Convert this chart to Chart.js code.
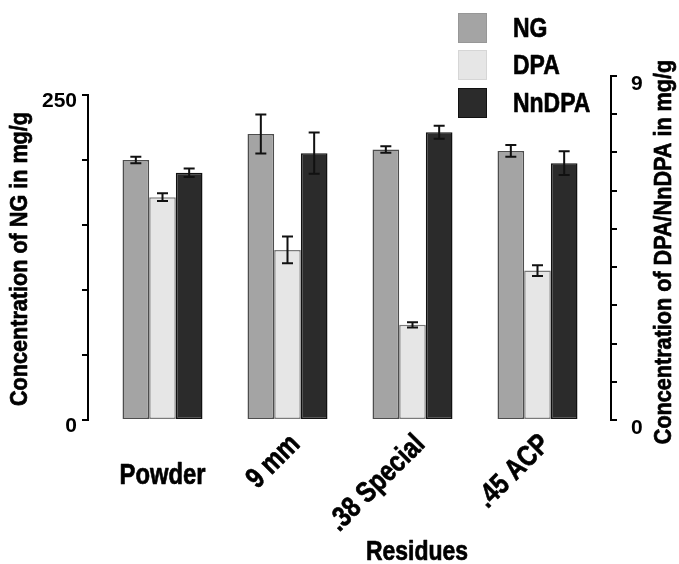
<!DOCTYPE html>
<html>
<head>
<meta charset="utf-8">
<script src="https://cdn.jsdelivr.net/npm/chart.js@4.4.1/dist/chart.umd.min.js"></script>
<style>
html,body{margin:0;padding:0;background:#fff;}
#wrap{width:679px;height:564px;position:relative;}
</style>
</head>
<body>
<div id="wrap"><canvas id="c" width="679" height="564"></canvas></div>
<script>
// ---- data ----
const categories = ['Powder', '9 mm', '.38 Special', '.45 ACP'];
const seriesNames = ['NG', 'DPA', 'NnDPA'];
const ngValues = [200, 220, 208, 207];
const ngErrors = [2.5, 15, 2.5, 4.6];
const dpaValues = [5.83, 4.45, 2.49, 3.91];
const dpaErrors = [0.1, 0.35, 0.07, 0.14];
const nndpaValues = [6.47, 6.98, 7.53, 6.72];
const nndpaErrors = [0.11, 0.54, 0.17, 0.31];
const leftTicks = [0, 50, 100, 150, 200, 250];
const leftLabels = [0, 250];
const rightTicks = [0, 1, 2, 3, 4, 5, 6, 7, 8, 9];
const rightLabels = [0, 9];
const xTitle = 'Residues';
const leftTitle = 'Concentration of NG in mg/g';
const rightTitle = 'Concentration of DPA/NnDPA in mg/g';

// ---- styles ----
const FONT = '"Liberation Sans", Arial, Helvetica, sans-serif';
const fills = ['#a4a4a4', '#e6e6e6', '#2b2b2b'];
const borders = ['#4d4d4d', '#7a7a7a', '#111111'];
const legendBorders = ['#979797', '#d6d6d6', '#111111'];

const errorSets = [ngErrors, dpaErrors, nndpaErrors];

function narrowText(ctx, text, x, y, rot, size, align, squeeze) {
  ctx.save();
  ctx.translate(x, y);
  ctx.rotate(rot);
  ctx.scale(squeeze, 1);
  ctx.font = 'bold ' + size + 'px ' + FONT;
  ctx.textAlign = align;
  ctx.textBaseline = 'middle';
  ctx.fillStyle = '#000';
  ctx.strokeStyle = '#000';
  ctx.lineWidth = 0.7;
  ctx.lineJoin = 'round';
  ctx.fillText(text, 0, 0);
  ctx.strokeText(text, 0, 0);
  ctx.restore();
}

const customPlugin = {
  id: 'custom',
  afterLayout(chart) {
    const xs = chart.scales.x;
    xs.left = 100; xs.right = 600; xs.width = 500;
    xs.configure();
  },
  afterDatasetsDraw(chart) {
    const ctx = chart.ctx;
    ctx.save();
    ctx.strokeStyle = '#111';
    ctx.lineWidth = 2;
    chart.data.datasets.forEach((ds, di) => {
      const meta = chart.getDatasetMeta(di);
      const ys = chart.scales[ds.yAxisID];
      const errs = errorSets[di];
      meta.data.forEach((el, i) => {
        const v = ds.data[i], e = errs[i];
        const yt = ys.getPixelForValue(v + e);
        const yb = ys.getPixelForValue(v - e);
        const x = el.x, cap = 5.5;
        ctx.beginPath();
        ctx.moveTo(x, yt); ctx.lineTo(x, yb);
        ctx.moveTo(x - cap, yt); ctx.lineTo(x + cap, yt);
        ctx.moveTo(x - cap, yb); ctx.lineTo(x + cap, yb);
        ctx.stroke();
      });
    });
    ctx.restore();
  },
  afterDraw(chart) {
    const ctx = chart.ctx;
    const ys = chart.scales.y;
    const xs = chart.scales.x;
    ctx.save();
    // left axis line (only between 0 and 250)
    ctx.strokeStyle = '#000';
    ctx.lineWidth = 2;
    ctx.beginPath();
    ctx.moveTo(chart.chartArea.left, ys.getPixelForValue(leftTicks[0]) + 1);
    ctx.lineTo(chart.chartArea.left, ys.getPixelForValue(leftTicks[leftTicks.length - 1]) - 1);
    ctx.stroke();

    // x tick labels
    categories.forEach((c, i) => {
      const x = xs.getPixelForValue(i);
      if (i === 0) {
        narrowText(ctx, c, x, 476, 0, 29, 'center', 0.82);
      } else {
        narrowText(ctx, c, x + 8, 440, -Math.PI / 4, 29, 'right', 0.82);
      }
    });
    // titles
    narrowText(ctx, xTitle, 417, 552, 0, 28, 'center', 0.82);
    narrowText(ctx, leftTitle, 20, 259, -Math.PI / 2, 24, 'center', 0.9);
    narrowText(ctx, rightTitle, 664, 252, -Math.PI / 2, 24, 'center', 0.9);

    // legend
    const tops = [13, 50, 88];
    chart.data.datasets.forEach((ds, di) => {
      ctx.fillStyle = ds.backgroundColor;
      ctx.fillRect(458, tops[di], 29, 30);
      ctx.strokeStyle = legendBorders[di];
      ctx.lineWidth = 1;
      ctx.strokeRect(458.5, tops[di] + 0.5, 28, 29);
      narrowText(ctx, ds.label, 513, tops[di] + 16, 0, 28, 'left', 0.82);
    });
    ctx.restore();
  }
};

const makeDs = (i, data, axis) => ({
  label: seriesNames[i],
  data: data,
  yAxisID: axis,
  backgroundColor: fills[i],
  borderColor: borders[i],
  borderWidth: 1.5,
  borderSkipped: false,
  categoryPercentage: 0.64,
  barPercentage: 1.0
});

new Chart(document.getElementById('c'), {
  type: 'bar',
  data: {
    labels: categories,
    datasets: [
      makeDs(0, ngValues, 'y'),
      makeDs(1, dpaValues, 'y2'),
      makeDs(2, nndpaValues, 'y2')
    ]
  },
  options: {
    responsive: false,
    animation: false,
    devicePixelRatio: 1,
    layout: { padding: { top: 76, left: 0, right: 0, bottom: 0 } },
    plugins: { legend: { display: false }, tooltip: { enabled: false } },
    scales: {
      x: {
        type: 'category',
        offset: true,
        grid: { display: false },
        border: { display: false },
        ticks: { display: false },
        afterFit(s) { s.height = 144; }
      },
      y: {
        position: 'left',
        min: 0,
        max: 264.6,
        afterBuildTicks(axis) { axis.ticks = leftTicks.map(v => ({ value: v })); },
        ticks: {
          callback: (v) => leftLabels.includes(v) ? String(v) : '',
          font: { family: FONT, size: 21, weight: 'bold' },
          color: '#000',
          padding: 5,
          labelOffset: 6
        },
        grid: { drawOnChartArea: false, drawTicks: true, tickLength: 6, color: '#000', lineWidth: 2 },
        border: { display: false },
        afterFit(s) { s.width = 88; }
      },
      y2: {
        position: 'right',
        min: 0,
        max: 9,
        afterBuildTicks(axis) { axis.ticks = rightTicks.map(v => ({ value: v })); },
        ticks: {
          callback: (v) => rightLabels.includes(v) ? String(v) : '',
          font: { family: FONT, size: 21, weight: 'bold' },
          color: '#000',
          padding: 14,
          labelOffset: 8
        },
        grid: { drawOnChartArea: false, drawTicks: true, tickLength: 6, color: '#000', lineWidth: 2 },
        border: { display: true, color: '#000', width: 2 },
        afterFit(s) { s.width = 68; }
      }
    }
  },
  plugins: [customPlugin]
});
</script>
</body>
</html>
